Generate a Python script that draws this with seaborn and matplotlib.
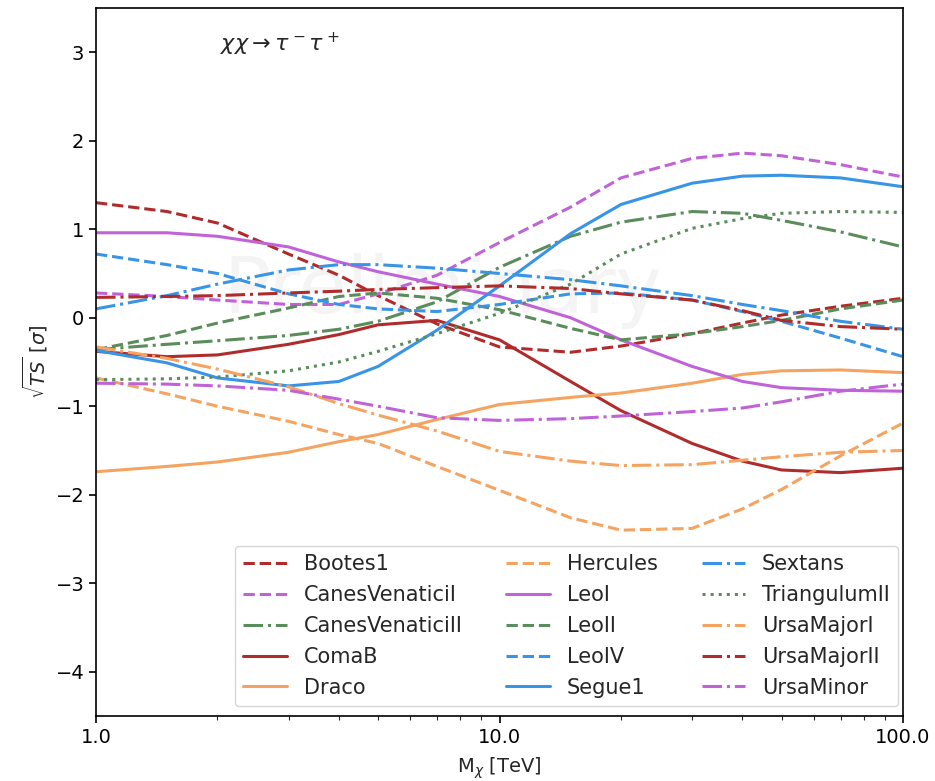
import numpy as np
import pandas as pd
import seaborn as sns
import matplotlib
matplotlib.use("Agg")
import matplotlib.pyplot as plt
from matplotlib.ticker import FixedLocator, FixedFormatter, LogLocator, NullFormatter

sns.set_style("ticks")
plt.rcParams['font.family'] = ['DejaVu Sans']

mass = [1, 1.5, 2, 3, 4, 5, 7, 10, 15, 20, 30, 40, 50, 70, 100]

bootes1 = [1.3, 1.2, 1.07, 0.72, 0.48, 0.25, -0.07, -0.33, -0.39, -0.32, -0.18, -0.06, 0.03, 0.13, 0.22]
canes_ven_1 = [0.28, 0.24, 0.2, 0.15, 0.15, 0.27, 0.48, 0.85, 1.25, 1.58, 1.8, 1.86, 1.83, 1.73, 1.59]
canes_ven_2 = [-0.36, -0.3, -0.26, -0.2, -0.13, -0.04, 0.18, 0.57, 0.92, 1.08, 1.2, 1.18, 1.1, 0.97, 0.8]
coma_b = [-0.38, -0.44, -0.42, -0.3, -0.19, -0.08, -0.03, -0.25, -0.72, -1.05, -1.42, -1.62, -1.72, -1.75, -1.7]
draco = [-1.74, -1.68, -1.63, -1.52, -1.4, -1.32, -1.15, -0.98, -0.9, -0.85, -0.74, -0.64, -0.6, -0.59, -0.62]
hercules = [-0.68, -0.86, -1.0, -1.17, -1.32, -1.42, -1.68, -1.95, -2.26, -2.4, -2.38, -2.16, -1.94, -1.56, -1.19]
leo_1 = [0.96, 0.96, 0.92, 0.8, 0.63, 0.52, 0.38, 0.24, 0.0, -0.25, -0.55, -0.72, -0.79, -0.82, -0.83]
leo_2 = [-0.36, -0.2, -0.06, 0.11, 0.24, 0.28, 0.22, 0.09, -0.12, -0.25, -0.18, -0.1, -0.03, 0.1, 0.2]
leo_4 = [0.72, 0.6, 0.5, 0.27, 0.15, 0.1, 0.07, 0.15, 0.27, 0.28, 0.2, 0.07, -0.04, -0.23, -0.44]
segue1 = [-0.37, -0.51, -0.68, -0.77, -0.72, -0.55, -0.14, 0.36, 0.95, 1.28, 1.52, 1.6, 1.61, 1.58, 1.48]
sextans = [0.1, 0.25, 0.38, 0.54, 0.6, 0.6, 0.56, 0.5, 0.43, 0.36, 0.25, 0.15, 0.08, -0.04, -0.13]
triangulum_2 = [-0.7, -0.69, -0.67, -0.6, -0.5, -0.38, -0.18, 0.05, 0.38, 0.72, 1.01, 1.12, 1.18, 1.2, 1.19]
ursa_major_1 = [-0.33, -0.46, -0.58, -0.78, -0.97, -1.1, -1.28, -1.51, -1.62, -1.67, -1.66, -1.61, -1.57, -1.52, -1.5]
ursa_major_2 = [0.23, 0.24, 0.25, 0.28, 0.3, 0.32, 0.34, 0.36, 0.33, 0.27, 0.2, 0.08, -0.03, -0.1, -0.13]
ursa_minor = [-0.74, -0.75, -0.77, -0.82, -0.92, -1.0, -1.13, -1.16, -1.14, -1.11, -1.06, -1.02, -0.95, -0.83, -0.75]

names = ['Bootes1', 'CanesVenaticiI', 'CanesVenaticiII', 'ComaB', 'Draco',
         'Hercules', 'LeoI', 'LeoII', 'LeoIV', 'Segue1',
         'Sextans', 'TriangulumII', 'UrsaMajorI', 'UrsaMajorII', 'UrsaMinor']
series = [bootes1, canes_ven_1, canes_ven_2, coma_b, draco,
          hercules, leo_1, leo_2, leo_4, segue1,
          sextans, triangulum_2, ursa_major_1, ursa_major_2, ursa_minor]

red = '#b02c2c'
purple = '#c163d8'
green = '#5b8c5b'
orange = '#f4a460'
blue = '#3894e6'
colors = [red, purple, green, red, orange,
          orange, purple, green, blue, blue,
          blue, green, orange, red, purple]
styles = ['--', '--', '-.', '-', '-',
          '--', '-', '--', '--', '-',
          '-.', ':', '-.', '-.', '-.']

fig = plt.figure(figsize=(9.35, 7.81), dpi=100)
ax = fig.add_axes([0.1027, 0.0832, 0.8631, 0.9066])

for name, vals, c, ls in zip(names, series, colors, styles):
    df = pd.DataFrame({'mass': mass, 'ts': vals})
    sns.lineplot(data=df, x='mass', y='ts', ax=ax, color=c, linestyle=ls,
                 linewidth=2.2, label=name)

ax.set_xscale('log')
ax.set_xlim(1, 100)
ax.set_ylim(-4.5, 3.5)
ax.xaxis.set_major_locator(FixedLocator([1, 10, 100]))
ax.xaxis.set_major_formatter(FixedFormatter(['1.0', '10.0', '100.0']))
ax.xaxis.set_minor_locator(LogLocator(base=10, subs=np.arange(2, 10)))
ax.xaxis.set_minor_formatter(NullFormatter())
ax.set_yticks([-4, -3, -2, -1, 0, 1, 2, 3])
ax.tick_params(axis='both', labelsize=14, direction='out', length=5, width=1.2, colors='black')
ax.tick_params(axis='x', which='minor', length=3, width=0.8)
for sp in ax.spines.values():
    sp.set_visible(True)
    sp.set_color('black')
    sp.set_linewidth(1.2)

ax.set_xlabel(r'M$_\chi$ [TeV]', fontsize=14, labelpad=6)
ax.set_ylabel(r'$\sqrt{TS}\ [\sigma]$', fontsize=14)

ax.text(0.154, 0.948, r'$\chi\chi \rightarrow \tau^-\tau^+$', transform=ax.transAxes,
        fontsize=16, va='center', ha='left')
ax.text(0.43, 0.60, 'Preliminary', transform=ax.transAxes, fontsize=56,
        color='#d8d8d8', alpha=0.28, ha='center', va='center', zorder=0)

ax.legend(loc='lower right', bbox_to_anchor=(0.9938, 0.0141), ncol=3, fontsize=15,
          frameon=True, framealpha=0.8, handlelength=2.1, columnspacing=2.1,
          labelspacing=0.52, borderaxespad=0.0)

fig.savefig('out.png', dpi=100)
